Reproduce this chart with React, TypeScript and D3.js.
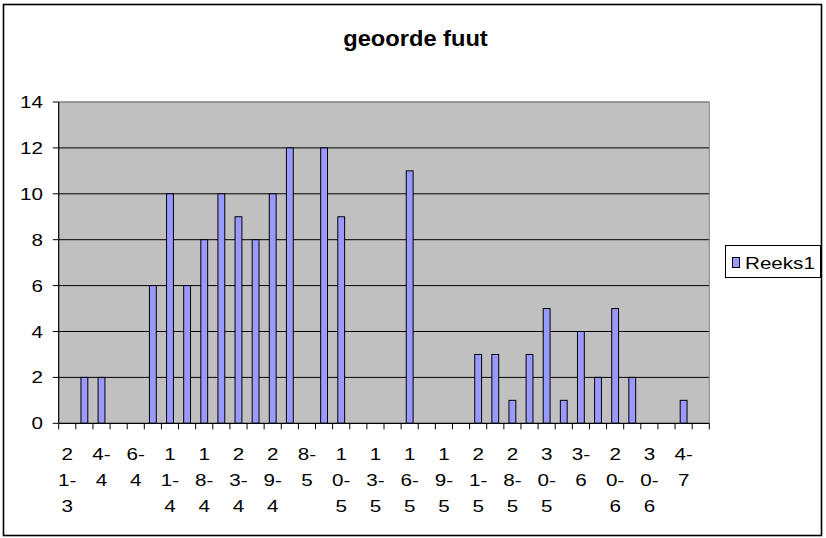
import React from "react";
import * as d3 from "d3";

// One value per category slot on the category axis (null = no bar)
const values: (number | null)[] = [
  null, 2, 2, null, null, 6, 10, 6, 8, 10,
  9, 8, 10, 12, null, 12, 9, null, null, null,
  11, null, null, null, 3, 3, 1, 3, 5, 1,
  4, 2, 5, 2, null, null, 1, null,
];

// Tick labels shown on every second category (index 0, 2, 4, ...)
const tickLabels: string[] = [
  "21-3", "4-4", "6-4", "11-4", "18-4", "23-4", "29-4", "8-5", "10-5",
  "13-5", "16-5", "19-5", "21-5", "28-5", "30-5", "3-6", "20-6", "30-6", "4-7",
];

const yTicks: number[] = [0, 2, 4, 6, 8, 10, 12, 14];
const seriesName = "Reeks1";
const title = "geoorde fuut";

const W = 826;
const H = 538;
const plot = { left: 58.7, right: 709.3, top: 102, bottom: 423.3 };
const FONT = "'Liberation Sans', Arial, Helvetica, sans-serif";
const SX = 1.25;
const FS = 16.5;

function wrapLabel(label: string): string[] {
  const [d, m] = label.split("-");
  if (d.length > 1) return [d[0], d.slice(1) + "-", m];
  return [d + "-", m];
}

export default function App() {
  const x = d3
    .scaleBand<number>()
    .domain(d3.range(values.length))
    .range([plot.left, plot.right])
    .paddingInner(0)
    .paddingOuter(0);
  const y = d3.scaleLinear().domain([0, 14]).range([plot.bottom, plot.top]);
  const bw = x.bandwidth();
  const barW = bw / 2.5;

  const boundaries = d3.range(values.length + 1).map((i) => plot.left + i * bw);

  return (
    <svg
      width={W}
      height={H}
      style={{ position: "absolute", left: 0, top: 0, background: "#fff" }}
      fontFamily={FONT}
    >
      <rect x={0} y={0} width={W} height={H} fill="#fff" />
      {/* outer chart border */}
      <rect x={3.5} y={4.5} width={818} height={531} fill="none" stroke="#000" strokeWidth={1.6} />

      {/* title */}
      <text
        transform={`translate(415.5,45.5) scale(1.1,1)`}
        textAnchor="middle"
        fontWeight="bold"
        fontSize={21.5}
        fill="#000"
      >
        {title}
      </text>

      {/* plot area */}
      <rect
        x={plot.left}
        y={plot.top}
        width={plot.right - plot.left}
        height={plot.bottom - plot.top}
        fill="#C0C0C0"
      />
      {/* gridlines */}
      {yTicks
        .filter((t) => t > 0 && t < 14)
        .map((t) => (
          <line key={t} x1={plot.left} x2={plot.right} y1={y(t)} y2={y(t)} stroke="#000" strokeWidth={1} />
        ))}
      {/* top & right plot border (gray) */}
      <line x1={plot.left} x2={plot.right} y1={y(14)} y2={y(14)} stroke="#808080" strokeWidth={1.5} />
      <line x1={plot.right} x2={plot.right} y1={plot.top} y2={plot.bottom} stroke="#808080" strokeWidth={1} />

      {/* bars */}
      {values.map((v, i) =>
        v == null ? null : (
          <rect
            key={i}
            x={(x(i) as number) + (bw - barW) / 2}
            y={y(v)}
            width={barW}
            height={y(0) - y(v)}
            fill="#9999FF"
            stroke="#000"
            strokeWidth={1}
          />
        )
      )}

      {/* axes */}
      <line x1={plot.left} x2={plot.left} y1={plot.top} y2={plot.bottom} stroke="#000" strokeWidth={1.2} />
      <line x1={plot.left} x2={plot.right} y1={plot.bottom} y2={plot.bottom} stroke="#000" strokeWidth={1.2} />

      {/* y ticks & labels */}
      {yTicks.map((t) => (
        <g key={t}>
          <line x1={plot.left - 6} x2={plot.left} y1={y(t)} y2={y(t)} stroke="#000" strokeWidth={1} />
          <text
            transform={`translate(43,${y(t) + 6}) scale(${SX},1)`}
            textAnchor="end"
            fontSize={FS}
            fill="#000"
          >
            {t}
          </text>
        </g>
      ))}

      {/* x ticks */}
      {boundaries.map((bx, i) => (
        <line key={i} x1={bx} x2={bx} y1={plot.bottom} y2={plot.bottom + 6} stroke="#000" strokeWidth={1} />
      ))}

      {/* x labels */}
      {tickLabels.map((lab, k) => {
        const i = k * 2;
        const cx = (x(i) as number) + bw / 2;
        return wrapLabel(lab).map((line, j) => (
          <text
            key={`${k}-${j}`}
            transform={`translate(${cx},${460 + j * 25.8}) scale(${SX},1)`}
            textAnchor="middle"
            fontSize={FS}
            fill="#000"
          >
            {line}
          </text>
        ));
      })}

      {/* legend */}
      <rect x={725.5} y={245.5} width={95} height={32} fill="#fff" stroke="#000" strokeWidth={1} />
      <rect x={732.5} y={257.5} width={7} height={10} fill="#9999FF" stroke="#000" strokeWidth={1} />
      <text transform={`translate(745,268.5) scale(${SX},1)`} fontSize={FS} fill="#000">
        {seriesName}
      </text>
    </svg>
  );
}
